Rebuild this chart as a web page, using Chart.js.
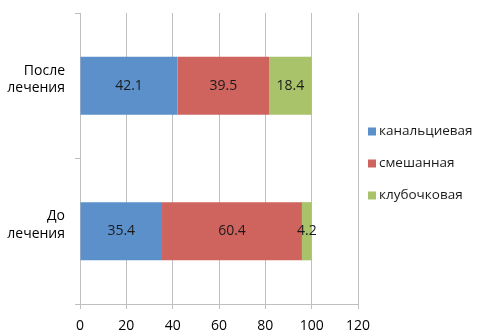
<!DOCTYPE html>
<html>
<head>
<meta charset="utf-8">
<script src="https://cdn.jsdelivr.net/npm/chart.js@4/dist/chart.umd.min.js"></script>
<style>
  html, body { margin: 0; padding: 0; background: #fff; }
  #wrap { position: relative; width: 477px; height: 334px; }
</style>
</head>
<body>
<div id="wrap"><canvas id="c" width="477" height="334"></canvas></div>
<script>
// Categories (top to bottom) and the share of each structural type, %
const categories = [['После', 'лечения'], ['До', 'лечения']];
const seriesNames = ['канальциевая', 'смешанная', 'клубочковая'];
const canalicular = [42.1, 35.4];
const mixed = [39.5, 60.4];
const glomerular = [18.4, 4.2];
const xTicks = [0, 20, 40, 60, 80, 100, 120];

const colors = ['#5B90CB', '#CF645F', '#A8C36A'];
const FONT = '"Open Sans", "Liberation Sans", sans-serif';
const gridColor = '#BFBFBF';

// Value labels centred inside each stacked segment
const segmentLabels = {
  id: 'segmentLabels',
  afterDatasetsDraw(chart) {
    const ctx = chart.ctx;
    ctx.save();
    ctx.font = '14px ' + FONT;
    ctx.fillStyle = '#1a1a1a';
    ctx.textAlign = 'center';
    ctx.textBaseline = 'middle';
    chart.data.datasets.forEach((ds, i) => {
      chart.getDatasetMeta(i).data.forEach((bar, j) => {
        const x = (bar.x + bar.base) / 2;
        ctx.fillText(ds.data[j].toFixed(1), x, bar.y);
      });
    });
    ctx.restore();
  }
};

// Legend at the right: small square marker followed by the series name
const sideLegend = {
  id: 'sideLegend',
  afterDraw(chart) {
    const ctx = chart.ctx;
    ctx.save();
    ctx.font = '13.5px ' + FONT;
    ctx.textAlign = 'left';
    ctx.textBaseline = 'middle';
    const x0 = 368, y0 = 131.5, step = 32;
    chart.data.datasets.forEach((ds, i) => {
      const y = y0 + i * step;
      ctx.fillStyle = ds.backgroundColor;
      ctx.fillRect(x0, y - 4, 8, 8);
      ctx.fillStyle = '#1a1a1a';
      ctx.fillText(ds.label, x0 + 11, y);
    });
    ctx.restore();
  }
};

new Chart(document.getElementById('c'), {
  type: 'bar',
  data: {
    labels: categories,
    datasets: [
      { label: seriesNames[0], data: canalicular, backgroundColor: colors[0] },
      { label: seriesNames[1], data: mixed, backgroundColor: colors[1] },
      { label: seriesNames[2], data: glomerular, backgroundColor: colors[2] }
    ]
  },
  options: {
    indexAxis: 'y',
    responsive: false,
    animation: false,
    devicePixelRatio: 1,
    layout: { padding: { top: 13, right: 119, left: 0, bottom: 0 } },
    datasets: { bar: { categoryPercentage: 0.8, barPercentage: 0.5, borderWidth: 0 } },
    plugins: { legend: { display: false }, tooltip: { enabled: false } },
    scales: {
      x: {
        stacked: true,
        min: 0, max: 120,
        afterBuildTicks(s) { s.ticks = xTicks.map(v => ({ value: v })); },
        afterFit(s) { s.height = 30; },
        grid: { color: gridColor, tickLength: 5, drawTicks: true, tickColor: gridColor },
        border: { color: gridColor },
        ticks: { color: '#000', font: { family: FONT, size: 14 }, padding: 9 }
      },
      y: {
        stacked: true,
        afterFit(s) { s.width = 80; s.paddingTop = 0; s.paddingBottom = 0; },
        grid: { drawOnChartArea: false, drawTicks: true, tickLength: 5, color: gridColor, offset: true },
        border: { color: gridColor },
        ticks: { color: '#000', font: { family: FONT, size: 14, lineHeight: 1.25 }, padding: 10, labelOffset: -6 }
      }
    }
  },
  plugins: [segmentLabels, sideLegend]
});
</script>
</body>
</html>
